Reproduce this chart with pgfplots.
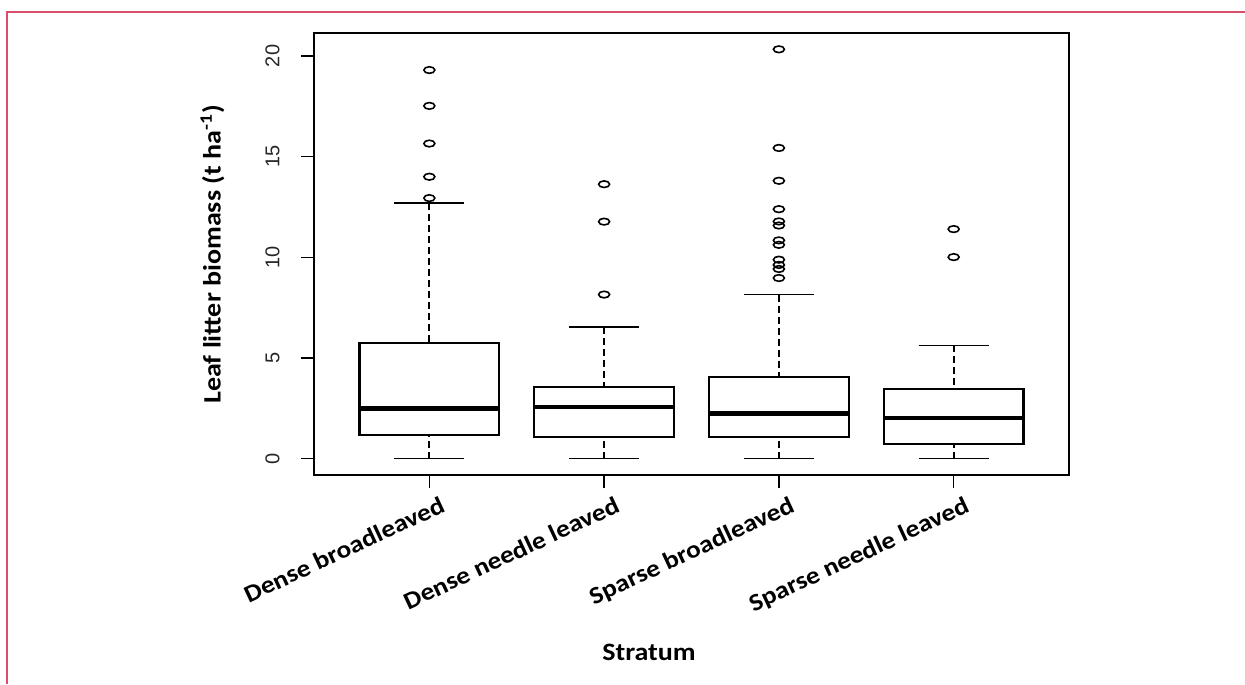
\documentclass[border=0pt]{standalone}
\usepackage{pgfplots}
\pgfplotsset{compat=1.18}
\usepgfplotslibrary{statistics}
\usepackage{fontspec}
\setmainfont{Carlito}[FakeStretch=1.12]
\newfontfamily\tickfont{Liberation Sans}
\definecolor{framepink}{RGB}{219,77,109}
\pgfplotsset{
  rbox/.style={
    black, line width=1.1pt,
    mark=o, mark size=2.75pt,
    mark options={solid, yscale=0.6, line width=0.8pt},
    boxplot/draw direction=y,
    boxplot/box extend=0.8,
    boxplot/whisker extend=0.4,
    boxplot/every median/.style={line width=2.2pt},
    boxplot/draw/lower whisker/.code={%
      \draw[dash pattern=on 3.5pt off 2pt, line width=1pt]
        (boxplot box cs:\pgfplotsboxplotvalue{lower whisker},0.5) --
        (boxplot box cs:\pgfplotsboxplotvalue{lower quartile},0.5);
      \draw[solid, line width=0.75pt]
        (boxplot whisker cs:\pgfplotsboxplotvalue{lower whisker},0) --
        (boxplot whisker cs:\pgfplotsboxplotvalue{lower whisker},1);
    },
    boxplot/draw/upper whisker/.code={%
      \draw[dash pattern=on 3.5pt off 2pt, line width=1pt]
        (boxplot box cs:\pgfplotsboxplotvalue{upper whisker},0.5) --
        (boxplot box cs:\pgfplotsboxplotvalue{upper quartile},0.5);
      \draw[solid, line width=0.75pt]
        (boxplot whisker cs:\pgfplotsboxplotvalue{upper whisker},0) --
        (boxplot whisker cs:\pgfplotsboxplotvalue{upper whisker},1);
    },
  },
}
\begin{document}
\begin{tikzpicture}
\path[use as bounding box] (0,0) rectangle (622.5pt,342pt);
\draw[framepink, line width=1pt] (3.7pt,0) -- (3.7pt,336pt) -- (622.5pt,336pt);
\begin{axis}[
  at={(157pt,104.5pt)}, anchor=south west,
  scale only axis, width=377.5pt, height=221pt,
  xmin=0.34, xmax=4.66, ymin=-0.813, ymax=21.14,
  axis line style={line width=1pt},
  xtick={1,2,3,4},
  xticklabels={Dense broadleaved, Dense needle leaved, Sparse broadleaved, Sparse needle leaved},
  ytick={0,5,10,15,20},
  xtick pos=bottom, ytick pos=left,
  tick align=outside, major tick length=6.5pt,
  tick style={line width=0.75pt, black},
  /pgf/number format/assume math mode=true,
  xticklabel style={font=\bfseries\fontsize{12.2}{14}\selectfont, xshift=5pt, yshift=-3.5pt, rotate=25, anchor=north east, inner sep=0pt},
  yticklabel style={font=\tickfont\fontsize{10}{12}\selectfont, text=black!85, xshift=-10.5pt, rotate=90, anchor=south, inner sep=0pt},
  xlabel={Stratum},
  every axis x label/.style={at={(axis description cs:0.4437,-0.420)}, anchor=base, font=\bfseries\fontsize{12.5}{14}\selectfont},
  ylabel={Leaf litter biomass (t ha\textsuperscript{-1})},
  every axis y label/.style={at={(axis description cs:-0.1344,0.499)}, anchor=center, rotate=90, font=\bfseries\fontsize{12.5}{14}\selectfont},
]
\addplot[rbox, boxplot prepared={draw position=1, lower whisker=0, lower quartile=1.17, median=2.49, upper quartile=5.75, upper whisker=12.69}]
  table[row sep=\\, y index=0, header=false] {12.94\\ 14.0\\ 15.65\\ 17.52\\ 19.3\\};
\addplot[rbox, boxplot prepared={draw position=2, lower whisker=0, lower quartile=1.09, median=2.56, upper quartile=3.55, upper whisker=6.54}]
  table[row sep=\\, y index=0, header=false] {8.15\\ 11.77\\ 13.63\\};
\addplot[rbox, boxplot prepared={draw position=3, lower whisker=0, lower quartile=1.09, median=2.25, upper quartile=4.05, upper whisker=8.15}]
  table[row sep=\\, y index=0, header=false] {8.97\\ 9.42\\ 9.62\\ 9.88\\ 10.62\\ 10.84\\ 11.58\\ 11.78\\ 12.39\\ 13.80\\ 15.43\\ 20.33\\};
\addplot[rbox, boxplot prepared={draw position=4, lower whisker=0, lower quartile=0.71, median=2.01, upper quartile=3.44, upper whisker=5.62}]
  table[row sep=\\, y index=0, header=false] {10.01\\ 11.40\\};
\end{axis}
\end{tikzpicture}
\end{document}
